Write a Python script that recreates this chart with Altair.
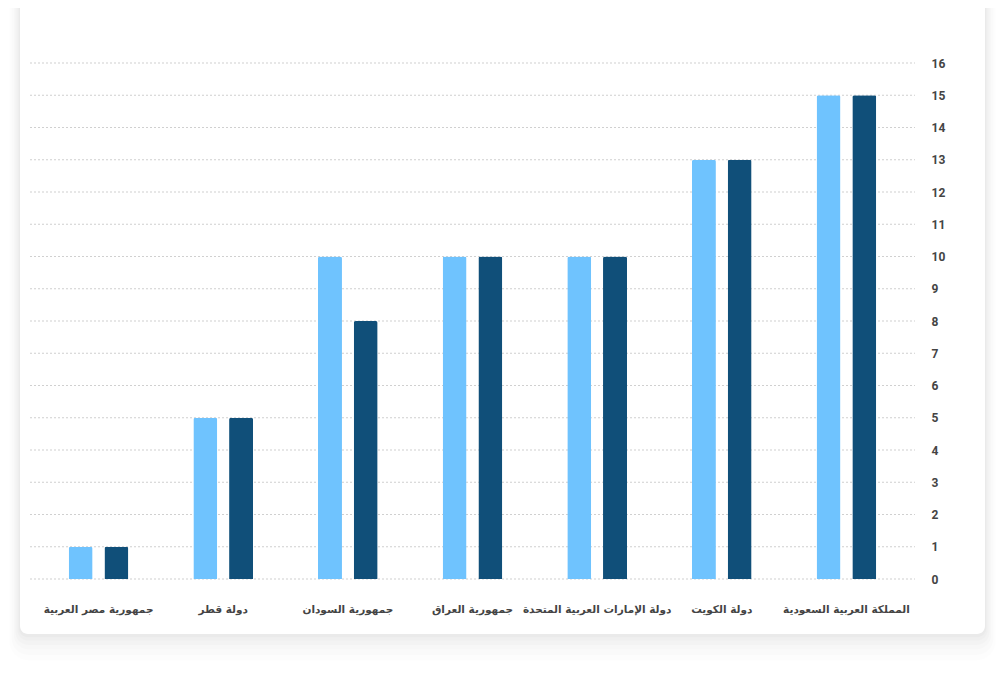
import altair as alt
import pandas as pd

categories = [
    "جمهورية مصر العربية",
    "دولة قطر",
    "جمهورية السودان",
    "جمهورية العراق",
    "دولة الإمارات العربية المتحدة",
    "دولة الكويت",
    "المملكة العربية السعودية",
]
series_names = ["الفئة الأولى", "الفئة الثانية"]
series_light = [1, 5, 10, 10, 10, 13, 15]
series_dark = [1, 5, 8, 10, 10, 13, 15]
y_ticks = list(range(0, 17))

colors = ["#6FC3FE", "#104F79"]

rows = []
for c, a, b in zip(categories, series_light, series_dark):
    rows.append({"country": c, "series": series_names[0], "value": a})
    rows.append({"country": c, "series": series_names[1], "value": b})
df = pd.DataFrame(rows)
ticks_df = pd.DataFrame({"tick": y_ticks})

PW, PH = 885, 516
one = pd.DataFrame({"k": [0]})

# card + soft shadow
card_l, card_r, card_t, card_b = -10, 955, -70, 571
shadow_layers = []
for e, op in [(24, 0.008), (19, 0.010), (14, 0.012), (10, 0.014), (6, 0.016), (3, 0.018)]:
    side = e * 0.45
    shadow_layers.append(
        alt.Chart(one).mark_rect(color="#000000", opacity=op, cornerRadius=8 + side).encode(
            x=alt.value(card_l - side),
            x2=alt.value(card_r + side),
            y=alt.value(card_t),
            y2=alt.value(card_b + e * 1.1),
        )
    )
card = alt.Chart(one).mark_rect(color="#ffffff", cornerRadius=8).encode(
    x=alt.value(card_l),
    x2=alt.value(card_r),
    y=alt.value(card_t),
    y2=alt.value(card_b),
)

y_scale = alt.Scale(domain=[0, 16], nice=False)
y_axis = alt.Axis(
    title=None,
    orient="right",
    values=y_ticks,
    ticks=False,
    domain=False,
    labelPadding=16,
    labelFontSize=12,
    labelFontWeight="bold",
    labelColor="#444444",
    labelFont="Roboto",
    labelAlign="left",
    labelOverlap=False,
    grid=False,
    zindex=1,
)

grid = alt.Chart(ticks_df).mark_rule(
    color="#d0d0d0", strokeDash=[2, 2], strokeWidth=1.2
).encode(
    y=alt.Y("tick:Q", scale=y_scale, axis=y_axis),
    x=alt.value(0),
    x2=alt.value(PW),
)

bars = alt.Chart(df).mark_bar(
    width=24, cornerRadiusTopLeft=2, cornerRadiusTopRight=2
).encode(
    x=alt.X(
        "country:N",
        sort=categories,
        scale=alt.Scale(paddingInner=0, paddingOuter=0.05),
        axis=alt.Axis(
            title=None,
            labelAngle=0,
            ticks=False,
            domain=False,
            labelPadding=25,
            labelFontSize=10.5,
            labelFontWeight="bold",
            labelColor="#444444",
            labelFont="DejaVu Sans",
            labelOverlap=False,
            grid=False,
            zindex=1,
        ),
    ),
    xOffset=alt.XOffset(
        "series:N",
        sort=series_names,
        scale=alt.Scale(paddingInner=0, paddingOuter=0.744),
    ),
    y=alt.Y("value:Q", scale=y_scale, axis=y_axis),
    color=alt.Color(
        "series:N",
        sort=series_names,
        scale=alt.Scale(domain=series_names, range=colors),
        legend=None,
    ),
)

chart = alt.layer(*shadow_layers, card, grid, bars).properties(
    width=PW,
    height=PH,
    padding={"left": 22, "top": 55, "right": 83, "bottom": 89},
    autosize="none",
    background="#ffffff",
).configure_view(stroke=None)

chart.save("out.html", embed_options={"renderer": "svg", "actions": False})
